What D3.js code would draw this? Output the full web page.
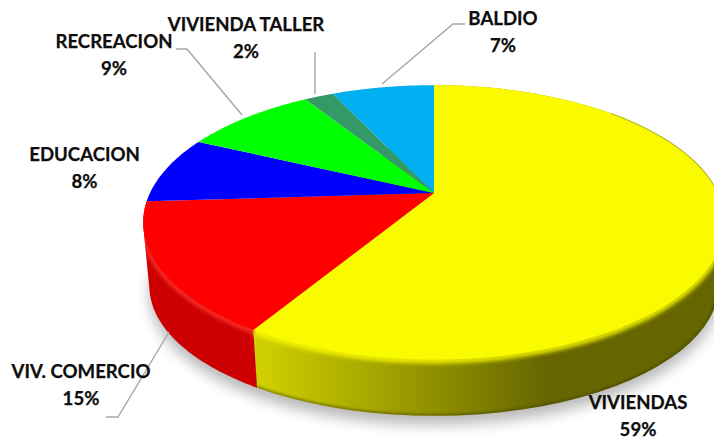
<!DOCTYPE html>
<html><head><meta charset="utf-8">
<script src="https://cdn.jsdelivr.net/npm/d3@7/dist/d3.min.js"></script>
<style>html,body{margin:0;padding:0;background:#fff;overflow:hidden}svg{display:block}text{font-family:Lato,"Open Sans",sans-serif;font-weight:700;font-size:18.6px;fill:#0d0d0d;stroke:#0d0d0d;stroke-width:.25;text-anchor:middle}</style>
</head><body><svg id="c" width="714" height="442"></svg>
<script>
const categories = ["VIVIENDAS","VIV. COMERCIO","EDUCACION","RECREACION","VIVIENDA TALLER","BALDIO"];
const values = [58.7,15.3,8,9,2,7];
const topColors = ["#fafa00","#ff0000","#0000ff","#00ff00","#339966","#00b0f0"];
const sideColors = ["url(#ySide)","#cc0000"];
const labelPos = [[638,409],[81,378],[84.5,161],[114,48],[246,31],[503,25]];
const leaders = [
 null,
 [[169,332],[118,417],[106,417]],
 null,
 [[176,49],[187,49],[242,115]],
 [[315,52],[315,94]],
 [[382,84],[453,24],[465,24]]
];
const svg = d3.select("#c");
const defs = svg.append("defs");
const g = defs.append("linearGradient").attr("id","ySide").attr("gradientUnits","userSpaceOnUse")
  .attr("x1",254).attr("x2",545).attr("y1",0).attr("y2",0);
g.append("stop").attr("offset",0).attr("stop-color","#d2d200");
g.append("stop").attr("offset",1).attr("stop-color","#666600");
[["b1",2.2],["b2",7],["b3",1.1]].forEach(([id,s])=>{
  defs.append("filter").attr("id",id).attr("x","-20%").attr("y","-20%").attr("width","140%").attr("height","140%")
    .append("feGaussianBlur").attr("stdDeviation",s);
});
const P = 0.2145, CX = 434;
const topSurf = {b:284,a:131,yc:193}, botSurf = {b:278,a:124,yc:258};
const project = (s,t)=>{const u=Math.sin(t),v=Math.cos(t),d=1+P*v;return [CX+s.b*u/d, s.yc-s.a*v/d];};
const arcPts = (s,a0,a1)=>d3.range(0,61).map(i=>project(s,a0+(a1-a0)*i/60));
const line = d3.line();
const pie = d3.pie().sort(null)(values);
const front = pie.slice(0,2);
const whole = arcPts(botSurf,0,2*Math.PI);
const sidePath = d => line(d3.polygonHull(arcPts(topSurf,d.startAngle,d.endAngle).concat(arcPts(botSurf,d.startAngle,d.endAngle))))+"Z";

// ground shadow
svg.append("path").attr("d",line(whole)+"Z").attr("transform","translate(0,9)")
  .attr("fill","#000").attr("opacity",.28).attr("filter","url(#b2)");

// sides
svg.selectAll(".side").data(front).join("path").attr("class","side")
  .attr("d",sidePath).attr("fill",(d,i)=>sideColors[i]);
const clip = defs.append("clipPath").attr("id","sideClip");
clip.selectAll("path").data(front).join("path").attr("d",sidePath);
const shade = svg.append("g").attr("clip-path","url(#sideClip)");
// dark rim at the bottom of the side
shade.selectAll(".rim").data(pie.slice(0,1)).join("path").attr("class","rim")
  .attr("d",d=>line(arcPts(botSurf,d.startAngle,d.endAngle)))
  .attr("fill","none").attr("stroke","#3f3f00").attr("stroke-width",4).attr("opacity",.45).attr("filter","url(#b3)");
// soft bevel between the top and the side
shade.selectAll(".bevel").data(front).join("path").attr("class","bevel")
  .attr("d",d=>line(arcPts(topSurf,d.startAngle,d.endAngle)))
  .attr("fill","none").attr("stroke",(d,i)=>i==0?"#fafa00":"#ff3030").attr("stroke-width",5)
  .attr("transform","translate(0,1)").attr("filter","url(#b1)");
// top surface
svg.selectAll(".top").data(pie).join("path").attr("class","top")
  .attr("d",d=>line([[CX,topSurf.yc]].concat(arcPts(topSurf,d.startAngle,d.endAngle)))+"Z")
  .attr("fill",(d,i)=>topColors[i]);
// thin olive rim on the upper right edge
svg.append("path").attr("d",line(arcPts(topSurf,.8,1.75))).attr("fill","none")
  .attr("stroke","#8a8a00").attr("stroke-width",1.1).attr("opacity",.55);

// leaders
svg.selectAll(".leader").data(leaders.filter(Boolean)).join("path").attr("class","leader")
  .attr("d",d=>line(d)).attr("fill","none").attr("stroke","#a6a6a6").attr("stroke-width",1.4);
// labels
const lab = svg.selectAll(".lab").data(categories).join("g").attr("class","lab");
lab.append("text").attr("x",(d,i)=>labelPos[i][0]).attr("y",(d,i)=>labelPos[i][1]).text(d=>d);
lab.append("text").attr("x",(d,i)=>labelPos[i][0]).attr("y",(d,i)=>labelPos[i][1]+26.5)
  .text((d,i)=>Math.round(values[i])+"%");
</script></body></html>
